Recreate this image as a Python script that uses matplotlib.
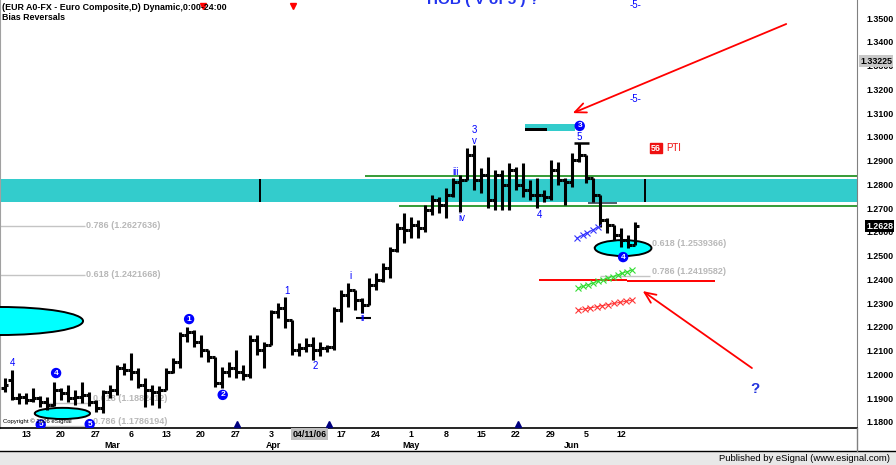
import matplotlib
matplotlib.use("Agg")
import matplotlib.pyplot as plt
from matplotlib.patches import Ellipse, Rectangle
from matplotlib.lines import Line2D

plt.rcParams['font.family'] = ['Liberation Sans', 'DejaVu Sans']

# ---------------- data (bar index 0 = Feb 8 2006) ----------------
highs = [1.1989, 1.2023, 1.1926, 1.1926, 1.1947, 1.1913, 1.1909, 1.1972, 1.1947, 1.1960,
         1.1939, 1.1972, 1.1930, 1.1896, 1.1939, 1.1960, 1.2044, 1.2052, 1.2094, 1.2031,
         1.1989, 1.1960, 1.1955, 1.2031, 1.2073, 1.2183, 1.2204, 1.2191, 1.2170, 1.2107,
         1.2077, 1.2035, 1.2056, 1.2107, 1.2044, 1.2170, 1.2170, 1.2141, 1.2275, 1.2305,
         1.2330, 1.2233, 1.2136, 1.2157, 1.2162, 1.2141, 1.2128, 1.2288, 1.2359, 1.2389,
         1.2359, 1.2326, 1.2410, 1.2431, 1.2473, 1.2540, 1.2641, 1.2683, 1.2667, 1.2654,
         1.2717, 1.2759, 1.2751, 1.2789, 1.2831, 1.2843, 1.2957, 1.2970, 1.2873, 1.2919,
         1.2864, 1.2864, 1.2894, 1.2877, 1.2894, 1.2822, 1.2831, 1.2780, 1.2907, 1.2898,
         1.2831, 1.2936, 1.2978, 1.2928, 1.2831, 1.2759, 1.2662, 1.2633, 1.2620, 1.2591,
         1.2646]
lows = [1.1930, 1.1896, 1.1880, 1.1880, 1.1888, 1.1867, 1.1854, 1.1871, 1.1896, 1.1888,
        1.1875, 1.1884, 1.1871, 1.1846, 1.1842, 1.1905, 1.1917, 1.2002, 1.1981, 1.1947,
        1.1867, 1.1875, 1.1863, 1.1939, 1.2010, 1.2031, 1.2141, 1.2119, 1.2077, 1.2056,
        1.1951, 1.1947, 1.1993, 1.1989, 1.1981, 1.1989, 1.2086, 1.2031, 1.2128, 1.2242,
        1.2199, 1.2086, 1.2082, 1.2098, 1.2065, 1.2082, 1.2098, 1.2107, 1.2225, 1.2288,
        1.2275, 1.2263, 1.2296, 1.2359, 1.2393, 1.2410, 1.2519, 1.2557, 1.2578, 1.2578,
        1.2603, 1.2675, 1.2683, 1.2662, 1.2751, 1.2688, 1.2822, 1.2780, 1.2768, 1.2705,
        1.2696, 1.2696, 1.2696, 1.2780, 1.2751, 1.2738, 1.2705, 1.2730, 1.2738, 1.2801,
        1.2717, 1.2793, 1.2898, 1.2810, 1.2730, 1.2625, 1.2599, 1.2570, 1.2540, 1.2536,
        1.2549]
opens = [1.1947, 1.1981, 1.1905, 1.1909, 1.1896, 1.1905, 1.1888, 1.1875, 1.1939, 1.1926,
         1.1905, 1.1909, 1.1917, 1.1888, 1.1863, 1.1930, 1.1939, 1.2031, 1.2023, 1.2014,
         1.1960, 1.1939, 1.1930, 1.1939, 1.2014, 1.2056, 1.2170, 1.2183, 1.2141, 1.2107,
         1.2077, 1.1968, 1.2014, 1.2031, 1.2014, 1.2002, 1.2149, 1.2107, 1.2128, 1.2267,
         1.2284, 1.2233, 1.2107, 1.2115, 1.2128, 1.2107, 1.2115, 1.2119, 1.2275, 1.2338,
         1.2359, 1.2317, 1.2296, 1.2380, 1.2401, 1.2452, 1.2528, 1.2620, 1.2612, 1.2633,
         1.2620, 1.2696, 1.2738, 1.2717, 1.2759, 1.2814, 1.2822, 1.2928, 1.2822, 1.2843,
         1.2738, 1.2843, 1.2801, 1.2864, 1.2801, 1.2780, 1.2759, 1.2759, 1.2751, 1.2864,
         1.2822, 1.2814, 1.2907, 1.2928, 1.2831, 1.2759, 1.2654, 1.2633, 1.2591, 1.2570,
         1.2549]
closes = [1.1960, 1.1905, 1.1909, 1.1896, 1.1905, 1.1888, 1.1875, 1.1939, 1.1926, 1.1905,
          1.1909, 1.1917, 1.1888, 1.1863, 1.1930, 1.1939, 1.2031, 1.2023, 1.2014, 1.1960,
          1.1939, 1.1930, 1.1939, 1.2014, 1.2056, 1.2170, 1.2183, 1.2141, 1.2107, 1.2077,
          1.1968, 1.2014, 1.2031, 1.2014, 1.2002, 1.2149, 1.2107, 1.2128, 1.2267, 1.2284,
          1.2233, 1.2107, 1.2115, 1.2128, 1.2107, 1.2115, 1.2119, 1.2275, 1.2338, 1.2359,
          1.2317, 1.2296, 1.2380, 1.2401, 1.2452, 1.2528, 1.2620, 1.2612, 1.2633, 1.2620,
          1.2696, 1.2738, 1.2717, 1.2759, 1.2814, 1.2822, 1.2928, 1.2822, 1.2843, 1.2738,
          1.2843, 1.2801, 1.2864, 1.2801, 1.2780, 1.2759, 1.2759, 1.2751, 1.2864, 1.2822,
          1.2814, 1.2907, 1.2928, 1.2831, 1.2759, 1.2654, 1.2633, 1.2591, 1.2570, 1.2549,
          1.2628]
bar_idx = list(range(len(closes)))

date_tick_idx = [3, 8, 13, 18, 23, 28, 33, 38, 43.5, 48, 53, 58, 63, 68, 73, 78, 83, 88]
date_tick_lbl = ["13", "20", "27", "6", "13", "20", "27", "3", "04/11/06", "17", "24",
                 "1", "8", "15", "22", "29", "5", "12"]
month_idx = [15.4, 38.3, 58, 81]
month_lbl = ["Mar", "Apr", "May", "Jun"]
price_ticks = [1.18, 1.19, 1.20, 1.21, 1.22, 1.23, 1.24, 1.25, 1.26, 1.27, 1.28, 1.29,
               1.30, 1.31, 1.32, 1.33, 1.34, 1.35]
last_price = 1.2628
hi_price = 1.33225

# zones / levels
band = (1.2730, 1.2827)
band_marks_idx = [36.4, 91.4]
green_levels = [(51.4, 1.2839), (56.3, 1.2713)]
fib_left = [("0.786 (1.2627636)", 1.2627636), ("0.618 (1.2421668)", 1.2421668)]
fib_bottom = [("0.618 (1.1882412)", 1.1884), ("0.786 (1.1786194)", 1.1786194)]
fib_right = [("0.618 (1.2539366)", 1.2539366, 84.0), ("0.786 (1.2419582)", 1.2419582, 85.0)]

# ellipses: (center idx, center price, width idx, height price, zorder)
ellipses = [(-0.7, 1.2229, 23.7, 0.0118), (8.2, 1.1840, 7.9, 0.0047), (88.3, 1.2536, 8.1, 0.0067)]

# arrows: tail -> tip
arrows = [((111.6, 1.3479), (81.1, 1.3104)), ((106.7, 1.2031), (91.1, 1.2355))]
red_level = [(76.3, 88.9, 1.2402), (88.9, 101.4, 1.2398)]

blue_x_idx = [81.7, 82.5, 83.2, 84.0, 84.7]
blue_x_val = [1.2578, 1.2590, 1.2601, 1.2613, 1.2625]
green_x_idx = [81.9, 82.6, 83.3, 84.0, 84.7, 85.4, 86.1, 86.8, 87.5, 88.2, 88.9, 89.6]
green_x_val = [1.2368, 1.2375, 1.2382, 1.2389, 1.2396, 1.2403, 1.2410, 1.2416, 1.2423,
               1.2430, 1.2437, 1.2444]
red_x_idx = [81.9, 82.8, 83.6, 84.5, 85.3, 86.2, 87.0, 87.9, 88.7, 89.6]
red_x_val = [1.2275, 1.2280, 1.2284, 1.2289, 1.2294, 1.2298, 1.2303, 1.2308, 1.2312, 1.2317]

wave_lbls = [("4", 1.1, 1.2052), ("1", 40.3, 1.2355), ("2", 44.3, 1.2040), ("i", 49.3, 1.2418),
             ("ii", 51.1, 1.2242), ("iii", 64.3, 1.2856), ("iv", 65.3, 1.2662),
             ("3", 67.1, 1.3033), ("v", 67.1, 1.2987), ("4", 76.3, 1.2675), ("5", 82.1, 1.3003),
             ("-5-", 90.1, 1.3559), ("-5-", 90.1, 1.3163)]
circ_lbls = [("5", 5.1, 1.1793), ("4", 7.3, 1.2010), ("5", 12.1, 1.1795), ("1", 26.3, 1.2237),
             ("2", 31.1, 1.1918), ("3", 82.1, 1.3050), ("4", 88.3, 1.2498)]
red_tri_idx = [28.3, 41.1]
blue_tri_idx = [33.1, 46.3, 73.3]

XMIN, XMAX = -0.714, 121.71
YMIN, YMAX = 1.17787, 1.3580

# ---------------- figure ----------------
W, H = 896, 465
fig = plt.figure(figsize=(W / 100, H / 100), dpi=100)
fig.patch.set_facecolor('white')
ax = fig.add_axes([0, 1 - 428 / H, 857 / W, 428 / H])
ax.set_xlim(XMIN, XMAX)
ax.set_ylim(YMIN, YMAX)
ax.set_xticks([]); ax.set_yticks([])
for s in ['top']:
    ax.spines[s].set_visible(False)
ax.spines['left'].set_color('#A0A0A0')
ax.spines['right'].set_color('#808080')
ax.spines['bottom'].set_color('black')
ax.spines['bottom'].set_linewidth(1.2)

# band
ax.axhspan(band[0], band[1], color='#33CCCC', zorder=1, lw=0)
ax.vlines(band_marks_idx, band[0], band[1], color='black', lw=1.4, zorder=2)
for x0, lv in green_levels:
    ax.hlines(lv, x0, XMAX, color='#008000', lw=1.1, zorder=2)

# fib levels
fibc = '#C4C4C4'
for t, lv in fib_left:
    ax.hlines(lv, XMIN, 11.4, color=fibc, lw=1, zorder=1)
    ax.text(11.6, lv + 0.0003, t, color='#B8B8B8', fontsize=6.5, fontweight='bold', va='center', ha='left', zorder=1)
for t, lv in fib_bottom:
    ax.hlines(lv, 5.4, 12.4, color=fibc, lw=1, zorder=1)
    ax.text(12.6, lv + 0.0018, t, color='#B8B8B8', fontsize=6.5, fontweight='bold', va='center', ha='left', zorder=1)
for t, lv, x0 in fib_right:
    ax.hlines(lv, x0, 92.1, color=fibc, lw=1, zorder=1)
    ax.text(92.4, lv + 0.0016, t, color='#B8B8B8', fontsize=6.5, fontweight='bold', va='center', ha='left', zorder=1)

# circled 5 underneath ellipse
def circ(t, x, y, z=6):
    ax.text(x, y, t, color='white', fontsize=6, fontweight='bold', ha='center', va='center',
            bbox=dict(boxstyle='circle,pad=0.12', fc='#0000FF', ec='#0000FF'), zorder=z, clip_on=True)

circ(*circ_lbls[0], z=3)

# ellipses
for cx, cy, w, h in ellipses:
    ax.add_patch(Ellipse((cx, cy), w, h, fc='#00FFFF', ec='black', lw=1.4, zorder=4))

# price bars
ax.vlines(bar_idx, lows, highs, color='black', lw=2.2, zorder=5)
ax.hlines(opens, [i - 0.5 for i in bar_idx], bar_idx, color='black', lw=2.2, zorder=5)
ax.hlines(closes, bar_idx, [i + 0.5 for i in bar_idx], color='black', lw=2.2, zorder=5)

# small marks
ax.hlines(1.2978, 81.3, 83.4, color='black', lw=1.8, zorder=5)
ax.hlines(1.2726, 83.3, 87.4, color='#405060', lw=1.3, zorder=4)
ax.hlines(1.2242, 50.2, 52.3, color='black', lw=1.5, zorder=5)
ax.add_patch(Rectangle((74.3, 1.3029), 7.1, 0.0029, fc='#33CCCC', ec='none', zorder=3))
ax.add_patch(Rectangle((74.3, 1.3029), 3.1, 0.0012, fc='black', ec='none', zorder=4))

# red lines
for a, b in arrows:
    ax.annotate('', xy=b, xytext=a,
                arrowprops=dict(arrowstyle='->,head_length=0.8,head_width=0.35', color='#FF0000', lw=1.3,
                                shrinkA=0, shrinkB=0), zorder=6)
for x0, x1, lv in red_level:
    ax.hlines(lv, x0, x1, color='#FF0000', lw=1.4, zorder=3)

# x-mark series
ax.plot(blue_x_idx, blue_x_val, color='#3333FF', marker='x', ms=4.5, mew=0.8, lw=0.7, zorder=6)
ax.plot(green_x_idx, green_x_val, color='#33DD33', marker='x', ms=4.5, mew=0.8, lw=0.7, zorder=6)
ax.plot(red_x_idx, red_x_val, color='#FF3333', marker='x', ms=4.5, mew=0.8, lw=0.7, zorder=6)

# labels
for t, x, y in wave_lbls:
    ax.text(x, y, t, color='#0000FF', fontsize=7, ha='center', va='center', zorder=7)
for c in circ_lbls[1:]:
    circ(*c)

ax.text(107.1, 1.1943, "?", color='#2233DD', fontsize=11, fontweight='bold', ha='center', va='center')
ax.text(68.3, YMAX + 0.0002, "HOB ( V of 5 ) ?", color='#2233EE', fontsize=11, fontweight='bold',
        ha='center', va='center', clip_on=False)
ax.text(93.0, 1.2957, "56", color='white', fontsize=6.5, fontweight='bold', ha='center', va='center',
        bbox=dict(boxstyle='square,pad=0.1', fc='#EE1111', ec='#EE1111'))
ax.text(94.4, 1.2957, "PTI", color='#EE1111', fontsize=7, ha='left', va='center')

ax.plot(red_tri_idx, [1.3555] * len(red_tri_idx), 'v', color='#FF0000', ms=5, zorder=7, clip_on=False)
ax.plot(blue_tri_idx, [1.1797] * len(blue_tri_idx), '^', color='#000080', ms=4.5, zorder=7, clip_on=False)

ax.text(0.004, 1.1806, "Copyright \u00a9 2006 eSignal", transform=ax.get_yaxis_transform(),
        fontsize=4.3, color='black', va='center', ha='left', zorder=8)

ax.text(0.002, 1 - 7 / 428, "(EUR A0-FX - Euro Composite,D) Dynamic,0:00-24:00", transform=ax.transAxes,
        fontsize=6.4, fontweight='bold', va='center', ha='left', zorder=8)
ax.text(0.002, 1 - 18 / 428, "Bias Reversals", transform=ax.transAxes,
        fontsize=6.4, fontweight='bold', va='center', ha='left', zorder=8)

# right price scale
ytr = ax.get_yaxis_transform()
for p in price_ticks:
    ax.text(1.0105, p, f"{p:.4f}", transform=ytr, fontsize=6.4, fontweight='bold',
            va='center', ha='left', clip_on=False)
ax.text(1.0035, hi_price, f"{hi_price:.5f}", transform=ytr, fontsize=6.4, fontweight='bold',
        va='center', ha='left', clip_on=False,
        bbox=dict(boxstyle='square,pad=0.15', fc='#C8C8C8', ec='none'))
ax.text(1.0105, last_price, f"{last_price:.4f}", transform=ytr, fontsize=6.4, fontweight='bold',
        color='white', va='center', ha='left', clip_on=False,
        bbox=dict(boxstyle='square,pad=0.15', fc='black', ec='none'))

# date scale
xtr = ax.get_xaxis_transform()
for x, t in zip(date_tick_idx, date_tick_lbl):
    kw = {}
    if '/' in t:
        kw['bbox'] = dict(boxstyle='square,pad=0.2', fc='#C0C0C0', ec='none')
    ax.text(x, -6 / 428, t, transform=xtr, fontsize=6.4, fontweight='bold', ha='center', va='center',
            clip_on=False, **kw)
for x, t in zip(month_idx, month_lbl):
    ax.text(x, -17 / 428, t, transform=xtr, fontsize=6.4, fontweight='bold', ha='center', va='center',
            clip_on=False)

# bottom status strip
fig.add_artist(Rectangle((0, 0), 1, 13 / H, transform=fig.transFigure, fc='#E8E8E8', ec='none'))
fig.add_artist(Line2D([0, 1], [14 / H, 14 / H], transform=fig.transFigure, color='black', lw=1))
fig.add_artist(Line2D([857 / W, 857 / W], [14 / H, 37 / H], transform=fig.transFigure, color='#808080', lw=1))
fig.text(1 - 6 / W, 6.5 / H, "Published by eSignal (www.esignal.com)", fontsize=6.8, ha='right', va='center')

fig.savefig("out.png", dpi=100)
